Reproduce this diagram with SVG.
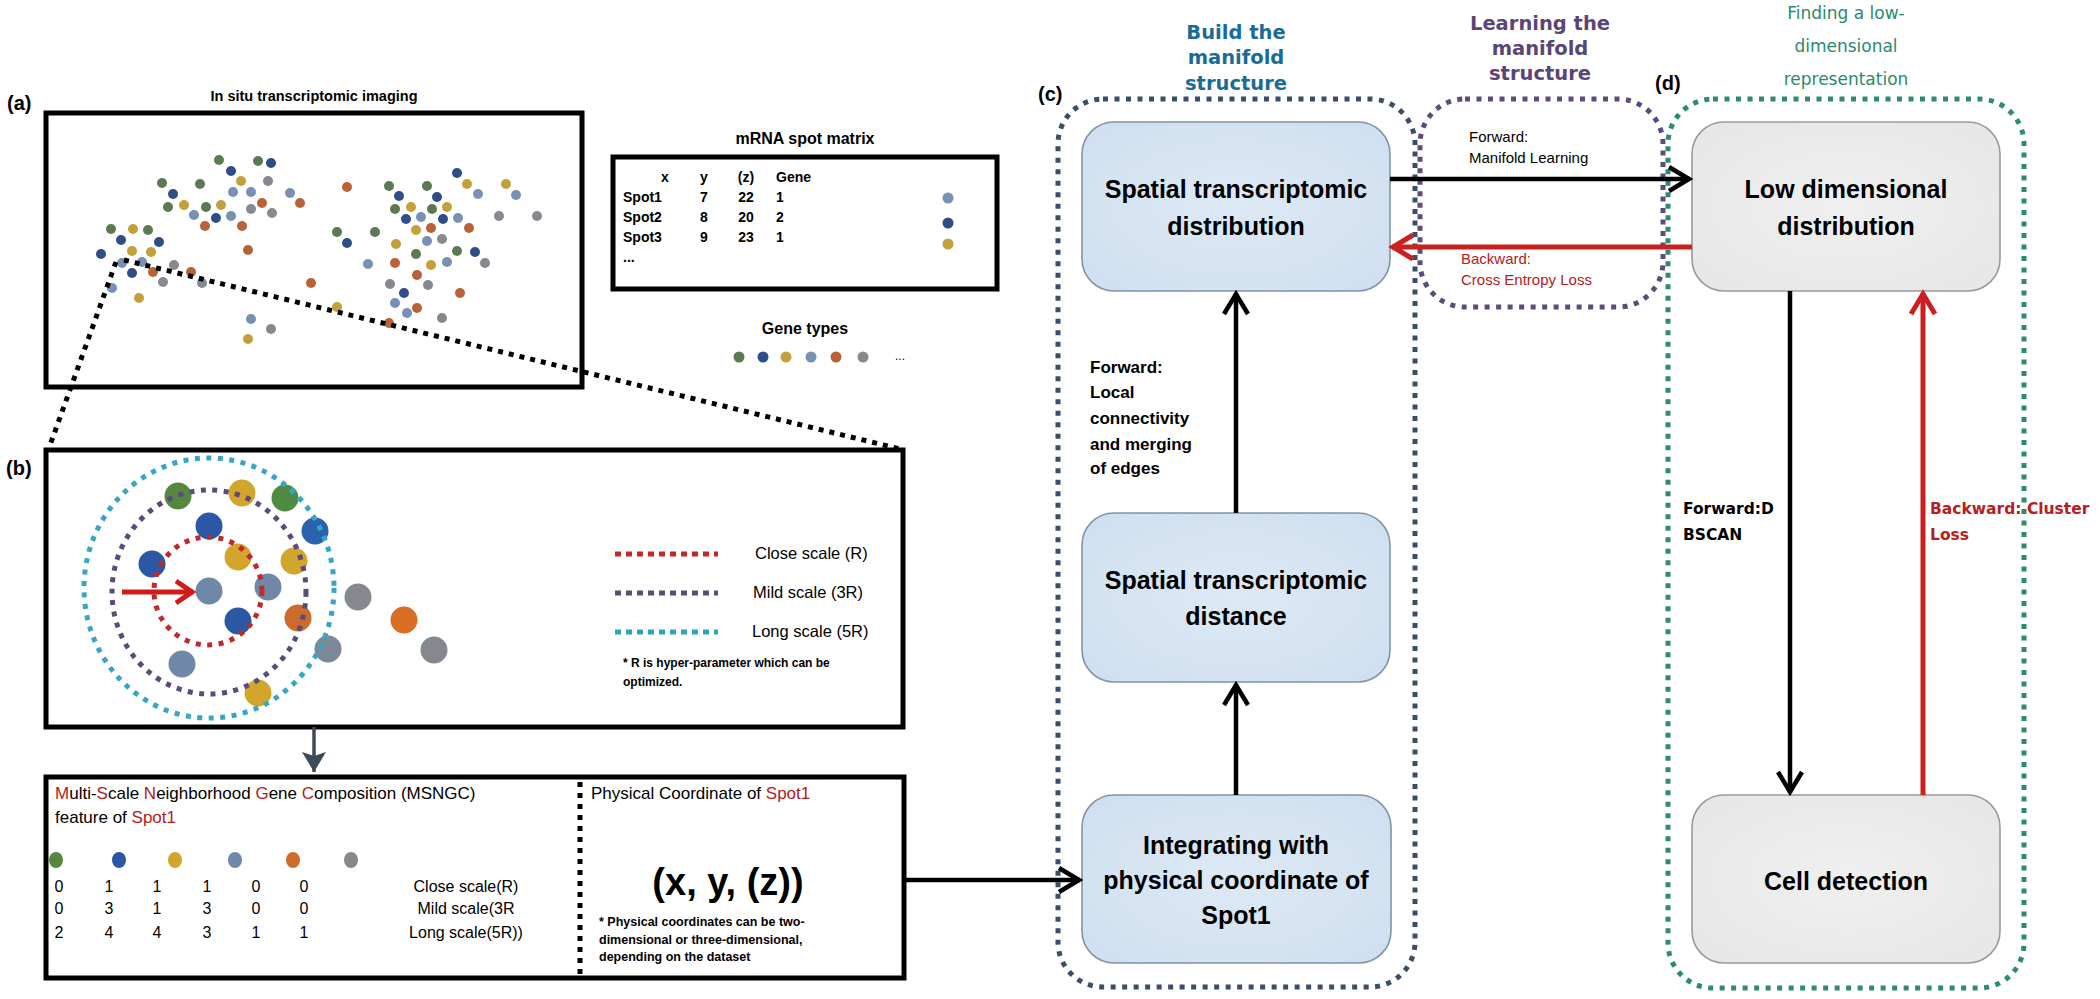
<svg xmlns="http://www.w3.org/2000/svg" width="2100" height="999" viewBox="0 0 2100 999">
<style>
.s{font-family:"Liberation Sans",Arial,sans-serif}
.b{font-weight:bold}
.d{font-family:"DejaVu Sans",Verdana,sans-serif}
.box{fill:none;stroke:#000;stroke-width:5}
.dotk{fill:none;stroke:#000;stroke-width:5;stroke-dasharray:5 6}
.node-b{fill:url(#gb);stroke:#8393a6;stroke-width:1.6}
.node-g{fill:url(#gg);stroke:#9a9a9a;stroke-width:1.6}
.nt{font-family:"Liberation Sans",Arial,sans-serif;font-weight:bold;font-size:25px;text-anchor:middle;fill:#000}
.cont{fill:none;stroke-width:5;stroke-dasharray:5 6.5}
.gn{fill:#5c7a52}.db{fill:#2f4e88}.go{fill:#c4a03c}.lb{fill:#7890b4}.or{fill:#b9623a}.gr{fill:#868a90}
.red{fill:#b01c1c}
</style>
<defs>
<radialGradient id="gb" cx="0.5" cy="0.5" r="0.7"><stop offset="0" stop-color="#dde9f5"/><stop offset="1" stop-color="#cfdff0"/></radialGradient>
<radialGradient id="gg" cx="0.5" cy="0.5" r="0.7"><stop offset="0" stop-color="#f0f0f0"/><stop offset="1" stop-color="#e6e6e6"/></radialGradient>
<marker id="ak" markerUnits="userSpaceOnUse" markerWidth="34" markerHeight="34" viewBox="-26 -17 34 34" refX="1" refY="0" orient="auto"><path d="M-20,-12 L0,0 L-20,12" fill="none" stroke="#000" stroke-width="4.5"/></marker>
<marker id="ar" markerUnits="userSpaceOnUse" markerWidth="34" markerHeight="34" viewBox="-26 -17 34 34" refX="1" refY="0" orient="auto"><path d="M-20,-12 L0,0 L-20,12" fill="none" stroke="#cc1f1f" stroke-width="5"/></marker>
<marker id="ar2" markerUnits="userSpaceOnUse" markerWidth="34" markerHeight="34" viewBox="-26 -17 34 34" refX="1" refY="0" orient="auto"><path d="M-16,-11 L0,0 L-16,11" fill="none" stroke="#d21a1a" stroke-width="5"/></marker>
<marker id="as" markerUnits="userSpaceOnUse" markerWidth="34" markerHeight="34" viewBox="-24 -17 30 34" refX="0" refY="0" orient="auto"><path d="M-20,-12 L0,0 L-20,12 L-16,0 Z" fill="#3d4a5a"/></marker>
</defs>
<rect width="2100" height="999" fill="#fff"/>

<g id="panel-a">
<text class="s b" x="7" y="110" font-size="20">(a)</text>
<text class="s b" x="314" y="101" font-size="14.5" text-anchor="middle">In situ transcriptomic imaging</text>
<rect class="box" x="46" y="113" width="536" height="274"/>
<g id="spots">
<circle class="gn" cx="219" cy="160" r="5"/><circle class="gn" cx="258" cy="161" r="5"/><circle class="db" cx="271" cy="163" r="5"/><circle class="db" cx="231" cy="171" r="5"/><circle class="go" cx="241" cy="181" r="5"/><circle class="gr" cx="268" cy="181" r="5"/><circle class="gn" cx="162" cy="183" r="5"/><circle class="gn" cx="200" cy="184" r="5"/><circle class="db" cx="173" cy="194" r="5"/><circle class="lb" cx="233" cy="192" r="5"/><circle class="lb" cx="251" cy="192" r="5"/><circle class="lb" cx="290" cy="193" r="5"/><circle class="or" cx="347" cy="187" r="5"/><circle class="gn" cx="168" cy="207" r="5"/><circle class="go" cx="184" cy="205" r="5"/><circle class="gn" cx="206" cy="207" r="5"/><circle class="go" cx="221" cy="205" r="5"/><circle class="or" cx="262" cy="203" r="5"/><circle class="or" cx="300" cy="203" r="5"/><circle class="gr" cx="251" cy="209" r="5"/><circle class="lb" cx="194" cy="215" r="5"/><circle class="db" cx="216" cy="218" r="5"/><circle class="lb" cx="231" cy="216" r="5"/><circle class="gr" cx="272" cy="213" r="5"/><circle class="or" cx="205" cy="226" r="5"/><circle class="or" cx="242" cy="226" r="5"/><circle class="gn" cx="111" cy="229" r="5"/><circle class="go" cx="133" cy="229" r="5"/><circle class="gn" cx="148" cy="230" r="5"/><circle class="db" cx="121" cy="240" r="5"/><circle class="db" cx="159" cy="242" r="5"/><circle class="go" cx="132" cy="251" r="5"/><circle class="go" cx="151" cy="252" r="5"/><circle class="db" cx="101" cy="254" r="5"/><circle class="or" cx="248" cy="250" r="5"/><circle class="lb" cx="122" cy="263" r="5"/><circle class="lb" cx="142" cy="262" r="5"/><circle class="gr" cx="174" cy="265" r="5"/><circle class="db" cx="132" cy="273" r="5"/><circle class="or" cx="153" cy="272" r="5"/><circle class="or" cx="191" cy="272" r="5"/><circle class="gr" cx="163" cy="282" r="5"/><circle class="gr" cx="202" cy="283" r="5"/><circle class="lb" cx="112" cy="288" r="5"/><circle class="go" cx="139" cy="298" r="5"/><circle class="or" cx="311" cy="283" r="5"/><circle class="go" cx="337" cy="307" r="5"/><circle class="lb" cx="251" cy="319" r="5"/><circle class="gr" cx="271" cy="329" r="5"/><circle class="go" cx="248" cy="339" r="5"/>
<circle class="db" cx="457" cy="173" r="5"/><circle class="gn" cx="389" cy="186" r="5"/><circle class="gn" cx="427" cy="186" r="5"/><circle class="go" cx="467" cy="184" r="5"/><circle class="go" cx="506" cy="184" r="5"/><circle class="db" cx="399" cy="196" r="5"/><circle class="db" cx="437" cy="197" r="5"/><circle class="lb" cx="478" cy="194" r="5"/><circle class="lb" cx="516" cy="195" r="5"/><circle class="gn" cx="395" cy="209" r="5"/><circle class="go" cx="411" cy="207" r="5"/><circle class="gn" cx="432" cy="209" r="5"/><circle class="go" cx="447" cy="207" r="5"/><circle class="db" cx="406" cy="219" r="5"/><circle class="lb" cx="421" cy="217" r="5"/><circle class="db" cx="443" cy="219" r="5"/><circle class="lb" cx="458" cy="218" r="5"/><circle class="gr" cx="499" cy="216" r="5"/><circle class="gr" cx="537" cy="216" r="5"/><circle class="gn" cx="337" cy="232" r="5"/><circle class="gn" cx="375" cy="232" r="5"/><circle class="go" cx="416" cy="230" r="5"/><circle class="or" cx="431" cy="228" r="5"/><circle class="or" cx="469" cy="228" r="5"/><circle class="db" cx="347" cy="243" r="5"/><circle class="go" cx="396" cy="244" r="5"/><circle class="lb" cx="427" cy="241" r="5"/><circle class="gr" cx="442" cy="239" r="5"/><circle class="gn" cx="457" cy="251" r="5"/><circle class="db" cx="475" cy="252" r="5"/><circle class="gn" cx="416" cy="254" r="5"/><circle class="lb" cx="368" cy="264" r="5"/><circle class="or" cx="395" cy="263" r="5"/><circle class="go" cx="431" cy="265" r="5"/><circle class="lb" cx="447" cy="262" r="5"/><circle class="gr" cx="485" cy="263" r="5"/><circle class="or" cx="417" cy="275" r="5"/><circle class="gr" cx="390" cy="284" r="5"/><circle class="gr" cx="428" cy="285" r="5"/><circle class="db" cx="404" cy="293" r="5"/><circle class="or" cx="460" cy="293" r="5"/><circle class="lb" cx="395" cy="303" r="5"/><circle class="or" cx="417" cy="308" r="5"/><circle class="lb" cx="407" cy="313" r="5"/><circle class="gr" cx="442" cy="318" r="5"/><circle class="or" cx="389" cy="323" r="5"/>
</g>
<line class="dotk" x1="116" y1="262" x2="49" y2="448"/>
<line class="dotk" x1="124" y1="260" x2="900" y2="449"/>
</g>

<g id="mrna-matrix">
<text class="s b" x="805" y="144" font-size="16" text-anchor="middle">mRNA spot matrix</text>
<rect class="box" x="613" y="157" width="384" height="132"/>
<g class="s b" font-size="14">
<text x="665" y="182" text-anchor="middle">x</text><text x="704" y="182" text-anchor="middle">y</text><text x="746" y="182" text-anchor="middle">(z)</text><text x="776" y="182">Gene</text>
<text x="623" y="202">Spot1</text><text x="704" y="202" text-anchor="middle">7</text><text x="746" y="202" text-anchor="middle">22</text><text x="776" y="202">1</text>
<text x="623" y="222">Spot2</text><text x="704" y="222" text-anchor="middle">8</text><text x="746" y="222" text-anchor="middle">20</text><text x="776" y="222">2</text>
<text x="623" y="242">Spot3</text><text x="704" y="242" text-anchor="middle">9</text><text x="746" y="242" text-anchor="middle">23</text><text x="776" y="242">1</text>
<text x="623" y="262">...</text>
</g>
<circle class="lb" cx="948" cy="198" r="5.5"/><circle class="db" cx="948" cy="223" r="5.5"/><circle class="go" cx="948" cy="244" r="5.5"/>
</g>

<g id="gene-types">
<text class="s b" x="805" y="334" font-size="16" text-anchor="middle">Gene types</text>
<circle class="gn" cx="739" cy="357" r="5.5"/><circle class="db" cx="763" cy="357" r="5.5"/><circle class="go" cx="786" cy="357" r="5.5"/><circle class="lb" cx="811" cy="357" r="5.5"/><circle class="or" cx="836" cy="357" r="5.5"/><circle class="gr" cx="863" cy="357" r="5.5"/>
<text class="s" x="900" y="360" font-size="12" text-anchor="middle">...</text>
</g>

<g id="panel-b">
<text class="s b" x="6" y="475" font-size="20">(b)</text>
<rect class="box" x="46" y="450" width="857" height="277"/>
<g id="b-dots">
<circle cx="178" cy="496" r="13.5" fill="#55873f"/>
<circle cx="242" cy="493" r="13.5" fill="#d2a52c"/>
<circle cx="285" cy="498" r="13.5" fill="#4f8b43"/>
<circle cx="209" cy="526" r="13.5" fill="#2b57a5"/>
<circle cx="315" cy="531" r="13.5" fill="#2a62b0"/>
<circle cx="152" cy="564" r="13.5" fill="#2b57a5"/>
<circle cx="238" cy="557" r="13.5" fill="#d2a52c"/>
<circle cx="294" cy="561" r="13.5" fill="#d2a52c"/>
<circle cx="209" cy="591" r="13.5" fill="#7088a8"/>
<circle cx="268" cy="587" r="13.5" fill="#7088a8"/>
<circle cx="358" cy="597" r="13.5" fill="#85888c"/>
<circle cx="238" cy="621" r="13.5" fill="#2b57a5"/>
<circle cx="298" cy="618" r="13.5" fill="#cd6a2c"/>
<circle cx="404" cy="620" r="13.5" fill="#d96d22"/>
<circle cx="328" cy="649" r="13.5" fill="#7c8a98"/>
<circle cx="434" cy="650" r="13.5" fill="#85888c"/>
<circle cx="182" cy="664" r="13.5" fill="#7088a8"/>
<circle cx="258" cy="693" r="13.5" fill="#d2a52c"/>
</g>
<ellipse cx="209" cy="588" rx="125" ry="130" fill="none" stroke="#37a6c6" stroke-width="5" stroke-dasharray="5 6.5"/>
<ellipse cx="209" cy="592" rx="97" ry="102" fill="none" stroke="#5b4a7c" stroke-width="5" stroke-dasharray="5 6.5"/>
<ellipse cx="208" cy="591" rx="54" ry="54" fill="none" stroke="#c0282a" stroke-width="5" stroke-dasharray="5 6.5"/>
<line x1="122" y1="592" x2="193" y2="592" stroke="#d21a1a" stroke-width="5" marker-end="url(#ar2)"/>
<g id="legend">
<line x1="615" y1="554" x2="718" y2="554" stroke="#c0282a" stroke-width="5" stroke-dasharray="6 5"/>
<line x1="615" y1="593" x2="718" y2="593" stroke="#5b4a7c" stroke-width="5" stroke-dasharray="6 5"/>
<line x1="615" y1="632" x2="718" y2="632" stroke="#2ea4bd" stroke-width="5" stroke-dasharray="6 5"/>
<text class="s" x="755" y="559" font-size="16.5">Close scale (R)</text>
<text class="s" x="753" y="598" font-size="16.5">Mild scale (3R)</text>
<text class="s" x="752" y="637" font-size="16.5">Long scale (5R)</text>
<text class="s b" x="623" y="667" font-size="12">* R is hyper-parameter which can be</text>
<text class="s b" x="623" y="686" font-size="12">optimized.</text>
</g>
</g>

<g id="msngc-feature">
<rect class="box" x="46" y="777" width="858" height="201"/>
<text class="s" x="55" y="799" font-size="17"><tspan class="red">M</tspan>ulti-<tspan class="red">S</tspan>cale <tspan class="red">N</tspan>eighborhood <tspan class="red">G</tspan>ene <tspan class="red">C</tspan>omposition (MSNGC)</text>
<text class="s" x="55" y="823" font-size="17">feature of <tspan class="red">Spot1</tspan></text>
<ellipse cx="56" cy="860" rx="7" ry="8" fill="#55873f"/><ellipse cx="119" cy="860" rx="7" ry="8" fill="#2b57a5"/><ellipse cx="175" cy="860" rx="7" ry="8" fill="#d2a52c"/><ellipse cx="235" cy="860" rx="7" ry="8" fill="#7088a8"/><ellipse cx="293" cy="860" rx="7" ry="8" fill="#cd6a2c"/><ellipse cx="351" cy="860" rx="7" ry="8" fill="#85888c"/>
<g class="s" font-size="16" text-anchor="middle">
<text x="59" y="892">0</text><text x="109" y="892">1</text><text x="157" y="892">1</text><text x="207" y="892">1</text><text x="256" y="892">0</text><text x="304" y="892">0</text>
<text x="59" y="914">0</text><text x="109" y="914">3</text><text x="157" y="914">1</text><text x="207" y="914">3</text><text x="256" y="914">0</text><text x="304" y="914">0</text>
<text x="59" y="938">2</text><text x="109" y="938">4</text><text x="157" y="938">4</text><text x="207" y="938">3</text><text x="256" y="938">1</text><text x="304" y="938">1</text>
<text x="466" y="892">Close scale(R)</text>
<text x="466" y="914">Mild scale(3R</text>
<text x="466" y="938">Long scale(5R))</text>
</g>
<line x1="580" y1="782" x2="580" y2="976" stroke="#000" stroke-width="5" stroke-dasharray="5 6"/>
<text class="s" x="591" y="799" font-size="17">Physical Coordinate of <tspan class="red">Spot1</tspan></text>
<text class="s b" x="728" y="895" font-size="38" text-anchor="middle">(x, y, (z))</text>
<text class="s b" x="599" y="926" font-size="12.5">* Physical coordinates can be two-</text>
<text class="s b" x="599" y="944" font-size="12.5">dimensional or three-dimensional,</text>
<text class="s b" x="599" y="961" font-size="12.5">depending on the dataset</text>
</g>

<g id="container-c">
<text class="s b" x="1038" y="101" font-size="20">(c)</text>
<text class="d b" font-size="19.5" fill="#1b6b97" text-anchor="middle"><tspan x="1236" y="39">Build the</tspan><tspan x="1236" y="64">manifold</tspan><tspan x="1236" y="90">structure</tspan></text>
<rect class="cont" x="1058" y="99" width="357" height="888" rx="45" stroke="#3b4d69"/>
</g>
<g id="container-learning">
<text class="d b" font-size="19.5" fill="#5b4577" text-anchor="middle"><tspan x="1540" y="30">Learning the</tspan><tspan x="1540" y="55">manifold</tspan><tspan x="1540" y="80">structure</tspan></text>
<rect class="cont" x="1420" y="99" width="243" height="208" rx="45" stroke="#5e4a7c"/>
</g>
<g id="container-d">
<text class="s b" x="1655" y="90" font-size="20">(d)</text>
<text class="d" font-size="17" fill="#2a8a6c" text-anchor="middle"><tspan x="1846" y="19">Finding a low-</tspan><tspan x="1846" y="52">dimensional</tspan><tspan x="1846" y="85">representation</tspan></text>
<rect class="cont" x="1668" y="99" width="356" height="889" rx="45" stroke="#2e8b6f"/>
</g>

<g id="node-st-distribution">
<rect class="node-b" x="1082" y="122" width="308" height="169" rx="32"/>
<text class="nt" x="1236" y="198">Spatial transcriptomic</text>
<text class="nt" x="1236" y="235">distribution</text>
</g>
<g id="node-st-distance">
<rect class="node-b" x="1082" y="513" width="308" height="169" rx="32"/>
<text class="nt" x="1236" y="589">Spatial transcriptomic</text>
<text class="nt" x="1236" y="625">distance</text>
</g>
<g id="node-integrating">
<rect class="node-b" x="1082" y="795" width="309" height="168" rx="32"/>
<text class="nt" x="1236" y="854">Integrating with</text>
<text class="nt" x="1236" y="889">physical coordinate of</text>
<text class="nt" x="1236" y="924" fill="#cc1a1a">Spot1</text>
</g>
<g id="node-low-dim">
<rect class="node-g" x="1692" y="122" width="308" height="169" rx="32"/>
<text class="nt" x="1846" y="198">Low dimensional</text>
<text class="nt" x="1846" y="235">distribution</text>
</g>
<g id="node-cell-detection">
<rect class="node-g" x="1692" y="795" width="308" height="168" rx="32"/>
<text class="nt" x="1846" y="890">Cell detection</text>
</g>

<g id="connectors">
<line x1="314" y1="727" x2="314" y2="772" stroke="#3d4a5a" stroke-width="3.5" marker-end="url(#as)"/>
<line x1="904" y1="880" x2="1080" y2="880" stroke="#000" stroke-width="4.5" marker-end="url(#ak)"/>
<line x1="1236" y1="795" x2="1236" y2="684" stroke="#000" stroke-width="4.5" marker-end="url(#ak)"/>
<line x1="1236" y1="513" x2="1236" y2="293" stroke="#000" stroke-width="4.5" marker-end="url(#ak)"/>
<line x1="1390" y1="179" x2="1690" y2="179" stroke="#000" stroke-width="4.5" marker-end="url(#ak)"/>
<line x1="1692" y1="247" x2="1392" y2="247" stroke="#cc1f1f" stroke-width="5" marker-end="url(#ar)"/>
<line x1="1790" y1="291" x2="1790" y2="793" stroke="#000" stroke-width="4.5" marker-end="url(#ak)"/>
<line x1="1923" y1="795" x2="1923" y2="293" stroke="#cc1f1f" stroke-width="5" marker-end="url(#ar)"/>
<text class="s" x="1469" y="142" font-size="15">Forward:</text>
<text class="s" x="1469" y="163" font-size="15">Manifold Learning</text>
<text class="s" x="1461" y="264" font-size="15" fill="#b52020">Backward:</text>
<text class="s" x="1461" y="285" font-size="15" fill="#b52020">Cross Entropy Loss</text>
<g class="s b" font-size="17"><text x="1090" y="373">Forward:</text><text x="1090" y="398">Local</text><text x="1090" y="424">connectivity</text><text x="1090" y="450">and merging</text><text x="1090" y="474">of edges</text></g>
<text class="d b" x="1683" y="514" font-size="15.5">Forward:D</text>
<text class="d b" x="1683" y="540" font-size="15.5">BSCAN</text>
<text class="d b" x="1930" y="514" font-size="15.5" fill="#b82020">Backward: Cluster</text>
<text class="d b" x="1930" y="540" font-size="15.5" fill="#b82020">Loss</text>
</g>
</svg>
